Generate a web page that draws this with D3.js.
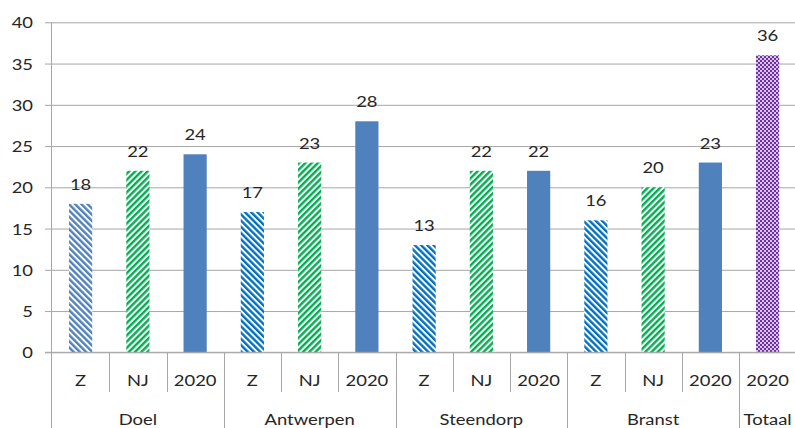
<!DOCTYPE html>
<html><head><meta charset="utf-8">
<script src="https://cdn.jsdelivr.net/npm/d3@7"></script>
<style>
html,body{margin:0;padding:0;background:#fff;}
text{font-family:Lato,"Open Sans",sans-serif;fill:#262626;}
</style></head>
<body><svg id="c" width="795" height="428"></svg>
<script>
const groups = ["Doel","Antwerpen","Steendorp","Branst","Totaal"];
const groupSizes = [3,3,3,3,1];
const subLabels = ["Z","NJ","2020","Z","NJ","2020","Z","NJ","2020","Z","NJ","2020","2020"];
const values = [18,22,24,17,23,28,13,22,22,16,20,23,36];
const yTicks = [0,5,10,15,20,25,30,35,40];

const svg = d3.select("#c");
const W = 795, H = 428;
const x0 = 52, step = 57.25;
const SX = 1.15, FS = 16;
const idx = d3.range(values.length);
const x = d3.scaleBand().domain(idx).range([x0, x0 + step*values.length]).paddingInner(0).paddingOuter(0);
const y = d3.scaleLinear().domain([0,40]).range([352.3, 22.3]);
const barW = x.bandwidth()*0.405;
const grid = "#a6a6a6";

const groupOf = [];
groupSizes.forEach((n,g)=>{ for(let i=0;i<n;i++) groupOf.push(g); });

const defs = svg.append("defs");
function stripes(id, color, angle){
  const p = defs.append("pattern").attr("id", id).attr("patternUnits","userSpaceOnUse")
    .attr("width", 4.4).attr("height", 10).attr("patternTransform", `rotate(${angle})`);
  p.append("rect").attr("width",4.4).attr("height",10).attr("fill","#fff");
  p.append("rect").attr("width",2.4).attr("height",10).attr("fill",color);
}
stripes("zLight","#4f81bd",-45);
stripes("zDark","#0070c0",-45);
stripes("nj","#00b050",45);
const ch = defs.append("pattern").attr("id","check").attr("patternUnits","userSpaceOnUse")
  .attr("width",4).attr("height",4);
ch.append("rect").attr("width",4).attr("height",4).attr("fill","#d8c3ea");
ch.append("rect").attr("width",2).attr("height",2).attr("fill","#7030a0");
ch.append("rect").attr("x",2).attr("y",2).attr("width",2).attr("height",2).attr("fill","#7030a0");

function fillFor(i){
  const lab = subLabels[i], g = groupOf[i];
  if (groups[g] === "Totaal") return "url(#check)";
  if (lab === "Z") return g === 0 ? "url(#zLight)" : "url(#zDark)";
  if (lab === "NJ") return "url(#nj)";
  return "#4f81bd";
}

function label(sel, px, py, anchor){
  sel.attr("x",0).attr("y",0).attr("text-anchor",anchor).attr("font-size",FS)
    .attr("transform",(d,i)=>`translate(${px(d,i)},${py(d,i)}) scale(${SX},1)`);
}

const yAxis = d3.axisLeft(y).tickValues(yTicks).tickSize(0).tickPadding(0);
const ya = svg.append("g").attr("transform","translate(51.5,0)").call(yAxis);
ya.select(".domain").remove();
ya.selectAll(".tick line").attr("stroke",grid).attr("x1",-6.5).attr("x2",W);
ya.selectAll(".tick text").attr("fill","#262626").attr("font-family",null)
  .call(label, ()=> -18.5, ()=> 5.5, "end").attr("dy",null);

svg.append("line").attr("x1",51.5).attr("x2",51.5).attr("y1",y(40)).attr("y2",H).attr("stroke",grid);

svg.append("g").selectAll("rect").data(idx).join("rect")
  .attr("x", i => x(i) + (x.bandwidth()-barW)/2)
  .attr("y", i => y(values[i]))
  .attr("width", barW)
  .attr("height", i => y(0) - y(values[i]))
  .attr("fill", i => fillFor(i));

svg.append("line").attr("x1",45).attr("x2",W).attr("y1",y(0)).attr("y2",y(0)).attr("stroke",grid);

svg.append("g").selectAll("text").data(idx).join("text")
  .call(label, i => x(i) + x.bandwidth()/2, i => y(values[i]) - 14, "middle")
  .text(i => values[i]);

const groupStarts = [0];
groupSizes.forEach((n,g)=> groupStarts.push(groupStarts[g]+n));
for (let k=1; k<=values.length; k++){
  const isGroup = groupStarts.includes(k);
  const xx = Math.round(x0 + k*step) + 0.5;
  svg.append("line").attr("x1",xx).attr("x2",xx).attr("y1",y(0)).attr("y2", isGroup ? H : 392).attr("stroke",grid);
}

svg.append("g").selectAll("text").data(idx).join("text")
  .call(label, i => x(i) + x.bandwidth()/2, ()=> 386, "middle")
  .text(i => subLabels[i]);

svg.append("g").selectAll("text").data(groups).join("text")
  .call(label, (g,j) => x0 + step*(groupStarts[j] + groupSizes[j]/2), ()=> 425, "middle")
  .text(g => g);
</script></body></html>
